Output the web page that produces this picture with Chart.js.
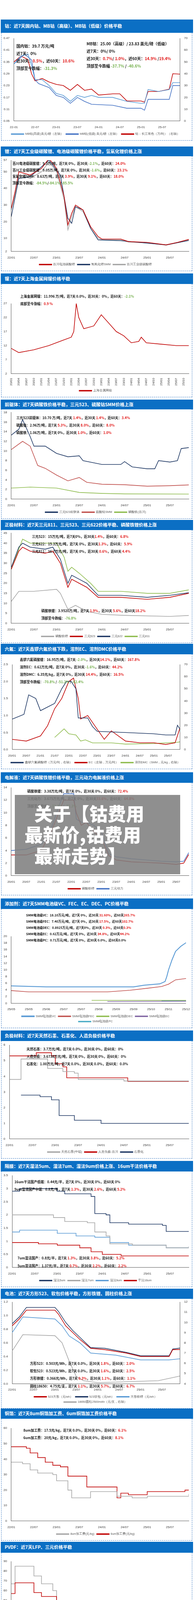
<!DOCTYPE html>
<html lang="zh">
<head>
<meta charset="UTF-8">
<title>锂电材料价格跟踪</title>
<script src="https://cdn.jsdelivr.net/npm/chart.js"></script>
<style>
  body { margin: 0; background: #fff; font-family: "Noto Sans CJK SC", "Noto Sans", sans-serif; }
  #page { position: relative; width: 500px; height: 4275px; overflow: hidden; }
  .hdr { position: absolute; left: 2px; width: 493px; background: #0b6fc4; color: #fff;
         font-weight: bold; font-size: 11.5px; line-height: 1; display: flex; align-items: center;
         padding-left: 10px; box-sizing: border-box; white-space: nowrap; overflow: hidden; }
  .box { position: absolute; left: 3px; width: 490px; border: 1.5px dashed #3a78c0; border-top: none; box-sizing: border-box; }
  .box canvas { position: absolute; left: 0; top: 0; }
  .note { position: absolute; font-weight: bold; font-size: 8.6px; color: #111; white-space: nowrap; z-index: 2; }
  .r { color: #e01010; } .g { color: #70ad47; }
  #banner { position: absolute; left: 38px; top: 2035px; width: 424px; height: 203px;
            background: rgba(128,128,128,0.88); z-index: 5; overflow: hidden; }
  #banner div { position: absolute; left: 25px; color: #fff; font-weight: 900; font-size: 47px; line-height: 1; white-space: nowrap; }
</style>
</head>
<body>
<div id="page"></div>
<script>
// ---------- 数据 ----------
const ticks22 = ['22/01','22/07','23/01','23/07','24/01','24/07','25/01','25/07'];
const ticks22dash = ['22-01','22-07','23-01','23-07','24-01','24-07','25-01','25-07'];
const ticks20 = ['20/01','20/07','21/01','21/07','22/01','22/07','23/01','23/07','24/01','24/07','25/01','25/07'];
const ticksNi = ['20/01','20/04','20/07','20/10','21/01','21/04','21/07','21/10','22/01','22/04','22/07','22/10',
                 '23/01','23/04','23/07','23/10','24/01','24/04','24/07','24/10','25/01','25/04','25/07','25/10'];
const ticksAdd = ['25/05','25/05','25/06','25/07','25/07','25/08','25/09','25/09','25/10','25/11','25/12'];

// 钴
const coHighD = ['22-01','22-03','22-05','22-06','22-07','22-09','22-11','23-01','23-03','23-05','23-07','23-09','23-11','24-01','24-05','24-09','25-01','25-02','25-03','25-06','25-09','25-10','25-12'];
const coHighV = [0.34,0.38,0.39,0.33,0.26,0.26,0.23,0.19,0.18,0.15,0.18,0.17,0.18,0.17,0.17,0.15,0.14,0.14,0.21,0.20,0.21,0.245,0.245];
const coLowD = ['22-01','22-04','22-06','22-07','22-08','22-11','23-01','23-03','23-05','23-07','23-09','23-11','24-05','24-09','25-01','25-02','25-03','25-09','25-10','25-12'];
const coLowV = [0.34,0.39,0.36,0.26,0.24,0.22,0.18,0.17,0.14,0.17,0.15,0.135,0.13,0.115,0.115,0.105,0.16,0.16,0.23,0.23];
const coCjD = ['22-01','22-03','22-05','22-06','22-07','22-09','22-11','23-01','23-03','23-05','23-07','23-09','23-11','24-01','24-05','24-07','24-09','25-01','25-02','25-03','25-06','25-09','25-10','25-12'];
const coCjV = [50,55,52,40,34,36,33,31,30,26,31,26,27,22,23,23,17,17,16,25,25,27,40,39.7];

// 锂
const liBatD = ['22-01','22-02','22-03','22-06','22-09','22-11','23-01','23-03','23-04','23-05','23-06','23-08','23-10','23-12','24-01','24-06','24-08','25-01','25-06','25-09','25-12'];
const liBatV = [28,38,50,48,52,58,52,35,18,25,30,27,17,11,9.5,9.5,8,7.5,6,7.5,9.3];
const liIndV = [27,36,48,46,50,56,50,33,15,23,29,26,16,10,9,9,7.7,7.2,5.8,7.3,9.05];
const liOhD = ['22-01','22-03','22-06','22-11','23-02','23-04','23-05','23-06','23-08','23-10','23-12','24-06','25-06','25-12'];
const liOhV = [23,46,47,57,48,22,19,29,27,16,9,8.5,6,8.63];

// 镍
const niD = ['20-01','20-04','20-10','21-04','21-10','22-01','22-02','22-03','22-04','22-06','22-10','23-01','23-04','23-07','23-10','24-01','24-04','24-05','24-07','25-01','25-07','25-12'];
const niV = [11,9.5,10.5,12,14,15,17,27,22,18,19,23,20,17,15.5,13,13.5,15,13,12.5,12,12];

// 前驱体
const preD = ['22-01','22-03','22-04','22-06','22-07','22-10','23-01','23-04','23-07','23-08','24-01','24-06','24-07','24-09','25-01','25-03','25-04','25-07','25-09','25-10','25-12'];
const preV = [13.3,14.5,16.5,13,11,11,9.5,8.8,9,8,7.2,7.2,7.8,6.7,6.3,6.3,8,7.7,8,10.5,10.7];
const coSulD = ['22-01','22-04','22-06','22-08','22-10','23-01','23-04','23-07','23-09','24-01','24-07','25-01','25-07','25-12'];
const coSulV = [10.3,12,11,7,6.4,5,3.8,4.5,3.5,3.1,3,2.7,2.8,2.96];
const fePoD = ['22-01','22-06','23-01','23-07','24-01','24-07','25-12'];
const fePoV = [2.3,2.5,2.3,1.4,1.2,1.1,1.06];

// 正极
const catD = ['22-01','22-03','22-04','22-06','22-10','22-12','23-02','23-04','23-05','23-07','23-09','23-12','24-06','25-01','25-07','25-12'];
const c523V = [27,36,38,36,35,36,30,18,22,20,18,13,13,12,13,15];
const c622V = [28,38,40,38,37,38,32,20,24,22,20,14,14,13,14,15.3];
const c811D = ['22-01','22-04','22-06','23-01','23-03','23-04','23-05','23-07','23-10','23-12','24-06','25-01','25-07','25-12'];
const c811V = [27,42,40,40,33,26,28,25,20,16,16,15,15,16.7];
const lfpD = ['22-01','22-03','22-07','23-01','23-02','23-04','23-06','23-09','24-01','24-07','25-07','25-12'];
const lfpV = [11,16,16,17,15,7,9,6,4.5,4,3.5,3.95];

// 六氟 / EC / DMC
const pf6D = ['20-01','20-06','20-08','20-11','21-01','21-04','21-07','21-10','21-12','22-02','22-04','22-05','22-07','22-09','22-11','23-01','24-01','25-01','25-06','25-10','25-11','25-12'];
const pf6V = [25,29,45,42,32,35,38,50,56,56,50,26,26,26,19,15,14,13,12,12,20,17];
const ecD = ['20-01','20-07','21-01','21-04','21-07','21-10','22-01','22-03','22-05','22-06','22-09','22-12','23-04','23-07','23-10','24-01','24-07','25-01','25-06','25-10','25-12'];
const ecV = [0.3,0.25,0.4,0.7,1.2,1.5,2.0,2.1,1.5,0.9,1.0,0.7,0.3,0.55,0.4,0.25,0.2,0.2,0.15,0.2,0.62];
const dmcD = ['21-07','21-11','22-01','22-04','22-06','22-08','22-11','23-07','24-01','25-01','25-11','25-12'];
const dmcV = [10,17,13,12,7,8,5.5,5.5,4.5,5,6,6.35];

// 电解液
const eleD = ['20-01','20-07','21-01','21-05','21-08','21-10','22-02','22-03','22-05','22-07','22-10','23-01','23-04','23-07','24-01','24-07','25-01','25-07','25-10','25-12'];
const eleLfpV = [3.3,3.3,4,7,10,12,12,10,8,8.5,7,6,3.2,2.5,2.2,2.1,2,1.8,2,3.38];
const eleNcmV = [4,4.2,5,7.5,11,13,13,9,8.5,8.5,8,7,3.5,3,2.7,2.5,2.3,2.2,2.3,3.675];

// 添加剂
const vcX = [0,20,70,76,85,88,89,90,92,94,97,100];
const vcV = [5.2,4.9,4.9,5.4,5.8,6.5,8,10,13,15.5,17,18.1];
const fecX = [0,10,55,68,78,86,90,94,100];
const fecV = [3.8,3.4,3.4,3.9,4.5,5,5.7,7,7.4];
const decX = [46,100]; const decV = [0.89,0.89];
const ecAddX = [55,100]; const ecAddV = [0.55,0.62];
const pcX = [86,100]; const pcV = [0.71,0.71];

// 负极
const natD = ['22-01','22-03','22-04','22-10','22-11','23-03','23-06','23-07','24-01','24-07','25-12'];
const natV = [3.8,3.8,5.1,5.1,4.5,4.3,4.2,3.8,3.8,3.7,3.7];
const artD = ['22-01','22-08','22-12','23-01','23-03','23-04','24-06','24-08','25-12'];
const artV = [5.3,5.5,5.3,4.8,4.6,3.9,3.9,3.67,3.67];
const grpD = ['22-04','22-09','22-12','23-02','23-06','24-01','25-12'];
const grpV = [2.8,2.7,2.5,1.5,1.2,1.0,1.0];

// 隔膜
const s5D = ['22-01','22-03','23-01','23-03','23-10','23-11','24-02','24-03','24-08','25-05','25-06','25-12'];
const s5V = [2.9,3.0,2.9,2.8,2.7,2.05,2.0,1.7,1.65,1.6,1.37,1.37];
const s7D = ['22-01','22-09','22-12','23-03','23-09','23-11','24-02','24-03','24-09','25-06','25-12'];
const s7V = [2.0,2.0,1.9,1.75,1.7,1.35,1.2,0.9,0.85,0.75,0.8];
const s9D = ['22-01','22-03','22-12','23-01','23-06','23-11','24-03','24-08','25-06','25-12'];
const s9V = [1.35,1.42,1.42,1.3,1.2,1.15,0.95,0.85,0.75,0.8];
const s16D = ['22-01','22-08','23-01','23-07','23-10','24-01','24-06','25-12'];
const s16V = [0.95,0.9,0.85,0.75,0.6,0.5,0.44,0.44];

// 电池
const batD = ['22-01','22-03','22-05','23-01','23-02','23-04','23-06','23-08','23-11','24-03','24-09','25-01','25-09','25-10','25-12'];
const b523V = [0.85,0.95,1.08,1.08,1.02,0.85,0.75,0.65,0.52,0.5,0.45,0.4,0.4,0.5,0.503];
const bSoftV = [0.88,0.98,1.12,1.12,1.06,0.9,0.78,0.68,0.53,0.52,0.46,0.41,0.41,0.51,0.523];
const bLfpD = ['22-01','22-04','23-01','23-03','23-05','23-08','23-11','24-06','25-01','25-09','25-12'];
const bLfpV = [0.75,0.98,0.95,0.85,0.7,0.6,0.45,0.42,0.35,0.35,0.366];
const bCylD = ['22-01','22-04','23-01','23-03','23-05','23-07','23-09','24-01','25-06','25-12'];
const bCylV = [7.2,8.8,8.7,8,6.2,4.7,4.3,4.1,4.3,4.75];

// 铜箔
const cu8D = ['22-01','22-04','22-06','22-08','22-12','23-01','23-04','23-05','23-09','23-10','24-04','24-05','24-09','25-01','25-10','25-12'];
const cu8V = [38,37,33,31,30,26,20,15,15,19,19,16,15,16,16,17.5];
const cu6D = ['22-01','22-05','22-06','22-08','22-10','22-12','23-02','23-04','23-08','23-09','24-03','24-05','24-06','24-08','25-01','25-09','25-11','25-12'];
const cu6V = [48,47,44,41,38,36,35,29,29,22,22,15,18,17,19,19,20,20];

// PVDF
const pvNcmD = ['22-01','22-02','22-06','22-07','22-09','22-12','23-01','23-04','23-07','23-10','24-02','24-06','25-12'];
const pvNcmV = [67,85,85,75,67,60,50,40,30,20,15,12,11.95];
const pvLfpD = ['22-01','22-02','22-06','22-07','22-09','22-11','23-01','23-03','23-05','23-07','23-09','24-02','24-06','25-12'];
const pvLfpV = [57,68,68,58,54,54,40,35,27,20,10,7,6,6];

// ---------- 绘制 ----------
const RED = '#c00000', NAVY = '#1f3864', BLUE = '#4472c4', LBLUE = '#5b9bd5', GRAY = '#a6a6a6', GREEN = '#8fbc4f';
const page = document.getElementById('page');

function mon(s, base) { const [y, m] = s.split('-').map(Number); return (y - base) * 12 + m - 1; }
function pts(d, v, base) { return d.map((s, i) => ({ x: typeof s === 'number' ? s : mon(s, base), y: v[i] })); }
function ds(label, d, v, color, base, extra) {
  return Object.assign({ label, data: pts(d, v, base), borderColor: color, backgroundColor: color,
    borderWidth: 1.6, pointRadius: 0, fill: false, yAxisID: 'y' }, extra || {});
}
const r = t => `<span class="r">${t}</span>`;
const g = t => `<span class="g">${t}</span>`;

function panel(p) {
  const h = document.createElement('div');
  h.className = 'hdr'; h.style.top = p.hTop + 'px'; h.style.height = (p.bTop - p.hTop) + 'px';
  h.textContent = p.title; page.appendChild(h);
  const b = document.createElement('div');
  b.className = 'box'; b.style.top = p.bTop + 'px'; b.style.height = (p.bBot - p.bTop) + 'px';
  page.appendChild(b);
  const c = document.createElement('canvas');
  c.width = 486; c.height = p.bBot - p.bTop - 3; b.appendChild(c);
  (p.notes || []).forEach(n => {
    const d = document.createElement('div');
    d.className = 'note'; d.style.left = n[0] + 'px'; d.style.top = n[1] + 'px';
    if (n[3]) d.style.fontSize = n[3] + 'px';
    d.innerHTML = n[2]; b.appendChild(d);
  });
  const scales = {
    x: { type: 'linear', min: 0, max: p.xMax, grid: { display: false, drawTicks: true },
         border: { color: '#555' },
         ticks: { stepSize: p.step, autoSkip: false, includeBounds: false, maxRotation: p.rot || 0, minRotation: p.rot || 0,
                  font: { size: 8 }, color: '#333', callback: v => p.ticks[Math.round(v / p.step)] ?? '' } },
    y: { min: p.y[0], max: p.y[1], grid: { display: false }, border: { color: '#555' },
         ticks: { stepSize: p.y[2], font: { size: 8 }, color: '#333', autoSkip: false,
                  callback: v => p.y[3] != null ? v.toFixed(p.y[3]) : v } }
  };
  if (p.y2) scales.y2 = { position: 'right', min: p.y2[0], max: p.y2[1], grid: { display: false }, border: { color: '#555' },
         ticks: { stepSize: p.y2[2], font: { size: 8 }, color: '#333' } };
  new Chart(c, {
    type: 'line',
    data: { datasets: p.data },
    options: {
      responsive: false, animation: false,
      layout: { padding: { left: 2, right: 6, top: p.padTop || 8, bottom: 0 } },
      plugins: { tooltip: { enabled: false },
        legend: { position: 'bottom', labels: { boxWidth: 32, boxHeight: 2, font: { size: 7.5 }, color: '#555', padding: 6 } } },
      scales
    }
  });
}

panel({ title: '钴：近7天国内钴、MB钴（高级）、MB钴（低级）价格平稳', hTop: 50, bTop: 84, bBot: 360,
  xMax: 47, step: 6, ticks: ticks22dash, y: [0.05, 0.47, 0.06, 2], y2: [0, 70, 10], padTop: 14,
  data: [ds('MB钴(高级)美元/磅（左轴）', coHighD, coHighV, LBLUE, 22),
         ds('MB钴(低级) 美元/磅（左轴）', coLowD, coLowV, BLUE, 22),
         ds('钴：长江有色（万/吨）（右轴）', coCjD, coCjV, RED, 22, { yAxisID: 'y2' })],
  notes: [[38, 26, '国内钴：39.7 万元/吨', 10], [38, 45, '近7天：0%', 10], [38, 64, `近30天：${r('0.5%')}，近60天：${r('10.6%')}`, 10],
          [38, 83, `顶部至今跌幅：${g('-31.3%')}`, 10],
          [218, 20, 'MB钴：25.00（高级）/ 23.83 美元/磅（低级）', 10], [218, 39, '近7天：0%/ 0%', 10],
          [218, 58, `近30天：${r('0.7%')}/ ${r('1.0%')}，近60天：${r('14.9%')} /${r('19.4%')}`, 10],
          [218, 77, `顶部至今跌幅 ${g('-37.7%')} / ${g('-40.6%')}`, 10]] });

panel({ title: '锂：近7天工业级碳酸锂、电池级碳酸锂价格平稳，氢氧化锂价格上涨', hTop: 375, bTop: 400, bBot: 694,
  xMax: 47, step: 6, ticks: ticks22, y: [2, 57, 10], padTop: 10,
  data: [ds('百川电池碳酸锂', liBatD, liBatV, RED, 22), ds('氢氧化锂SMM', liOhD, liOhV, NAVY, 22), ds('百川工业级碳酸锂', liBatD, liIndV, GRAY, 22)],
  notes: [[28, 12, `百川电池级碳酸锂：9.3万/吨，近7天 0%，近30天 ${g('-2.1%')}，近60天：${r('24.0%')}`],
          [28, 29, `百川工业级碳酸锂：9.05万/吨，近7天 0%，近30天 ${g('-1.6%')}，近60天：${r('23.1%')}`],
          [28, 45, `氢氧化锂SMM：8.63万/吨，近7天 ${r('3.9%')}，近30天 ${r('9.1%')}，近60天：${r('18.0%')}`],
          [28, 62, `顶部至今跌幅：${g('-84.5%')}/${g('-84.1%')}/${g('-85.5%')}`]] });

panel({ title: '镍：近7天上海金属网镍价格平稳', hTop: 700, bTop: 727, bBot: 1017,
  xMax: 71, step: 3, ticks: ticksNi, rot: 90, y: [2, 27, 5], padTop: 50,
  data: [ds('上海金属网镍', niD, niV, RED, 20)],
  notes: [[48, 25, `上海金属网镍：11.996 万/吨，近7天 0.0%，近30天：0%，近60天：${g('-2.1%')}`],
          [48, 44, `底部至今涨幅：${r('0.9 %')}`]] });

panel({ title: '前驱体：近7天磷酸铁价格平稳，三元523、硫酸钴SMM价格上涨', hTop: 1023, bTop: 1048, bBot: 1328,
  xMax: 47, step: 6, ticks: ticks22, y: [0, 18, 2], padTop: 6,
  data: [ds('三元523前驱体', preD, preV, NAVY, 22), ds('硫酸钴SMM', coSulD, coSulV, '#c0504d', 22), ds('磷酸铁(百川)', fePoD, fePoV, GREEN, 22)],
  notes: [[38, 15, `三元523前驱体：10.70 万/吨，近7天 ${r('1.4%')}，近30天 ${r('1.4%')}，近60天：${r('3.4%')}`],
          [38, 34, `硫酸钴：2.96万/吨，近7天 ${r('5.3%')}，近30天 ${r('8.0%')}，近60天：${r('8.0%')}`],
          [38, 53, `磷酸铁：1.06万/吨，近7天 0%，近30天 ${r('1.0%')}，近60天：${r('1.0%')}`]] });

panel({ title: '正极材料：近7天三元811、三元523、三元622价格平稳、磷酸铁锂价格上涨', hTop: 1331, bTop: 1357, bBot: 1646,
  xMax: 47, step: 6, ticks: ticks22, y: [0, 45, 5], padTop: 6,
  data: [ds('磷酸铁锂', lfpD, lfpV, GRAY, 22), ds('三元523', catD, c523V, RED, 22), ds('三元622', catD, c622V, NAVY, 22), ds('三元811', c811D, c811V, GREEN, 22)],
  notes: [[78, 10, `三元523：15万元/吨，近7天0%，近30天${r('1.4%')}，近60天：${r('6.8%')}`],
          [78, 29, `三元622：15.3万元/吨，近7天 0%，近30天${r('1.3%')}，近60天：${r('5.9%')}`],
          [78, 48, `三元811：16.7万元/吨，近7天 0%，近30天 ${r('0.6%')}，近60天 ${r('4.4%')}`],
          [102, 200, `磷酸铁锂：3.9520万/吨，近7天 ${r('1.9%')}，近30天 ${r('5.6%')}，近60天${r('18.2%')}`],
          [102, 219, `顶部至今跌幅：${g('-76.8%')}`]] });

panel({ title: '六氟：近7天鑫锣六氟价格下跌，溶剂EC、溶剂DMC价格平稳', hTop: 1648, bTop: 1675, bBot: 1969,
  xMax: 71, step: 6, ticks: ticks20, y: [0, 2.5, 0.5, 1], y2: [0, 70, 10], padTop: 26,
  data: [ds('鑫锣六氟磷酸锂（万元/吨，右轴）', pf6D, pf6V, NAVY, 20, { yAxisID: 'y2' }),
         ds('EC（左轴，万元/吨）', ecD, ecV, RED, 20),
         ds('溶剂DMC（SMM，元/kg，右轴）', dmcD, dmcV, GREEN, 20, { yAxisID: 'y2' })],
  notes: [[47, 7, `鑫锣六氟磷酸锂：16.95万/吨，近7天 ${g('-2.0%')}，近30天${r('14.1%')}，近60天：${r('167.8%')}`],
          [47, 26, `溶剂EC：0.62万元/吨，近7天 0%，近30天 ${g('-1.6%')}，近60天：${r('44.2%')}`],
          [47, 45, `溶剂DMC：6.35元/kg，近7天 0%，近30天 ${r('14.4%')}，近60天：${r('16.5%')}`],
          [47, 64, `顶部至今跌幅：${g('-70.8%')} / ${g('-51.2%')} / ${g('-62.4%')}`]] });

panel({ title: '电解液：近7天磷酸铁锂价格平稳，三元动力电解液价格上涨', hTop: 1977, bTop: 2004, bBot: 2292,
  xMax: 71, step: 6, ticks: ticks20, y: [0, 14, 2], padTop: 12,
  data: [ds('磷酸铁锂', eleD, eleLfpV, RED, 20), ds('三元动力', eleD, eleNcmV, BLUE, 20)],
  notes: [[66, 15, `磷酸铁锂：3.38万元/吨，近7天 0%，近30天 0%，近60天：${r('72.4%')}`],
          [66, 34, `三元动力：3.675万元/吨，近7天 0%，近30天${r('33.6%')}，近60天：${r('64.8%')}`],
          [66, 53, `顶部至今跌幅：${g('-72.3%')} / ${g('-72.3%')}`]] });

panel({ title: '添加剂：近7天SMM电池级VC、FEC、EC、DEC、PC价格平稳', hTop: 2300, bTop: 2327, bBot: 2632,
  xMax: 100, step: 10, ticks: ticksAdd, y: [0, 20, 2], padTop: 70,
  data: [ds('SMM电池级VC', vcX, vcV, LBLUE, 0, { borderWidth: 2.2 }), ds('SMM电池级FEC', fecX, fecV, '#c0504d', 0),
         ds('SMM电池级DEC', decX, decV, GREEN, 0), ds('SMM电池级EC', ecAddX, ecAddV, '#8064a2', 0),
         ds('SMM电池级PC', pcX, pcV, '#4bacc6', 0)],
  notes: [[63, 10, `SMM电池级VC：18.10万元/吨，近7天 0%，近30天 ${r('31.60%')}，近60天${r('265.7%')}`, 8],
          [63, 26, `SMM电池级FEC：7.40万元/吨，近7天 0%，近30天 ${r('17.5%')}，近60天${r('102.7%')}`, 8],
          [63, 42, `SMM电池级DEC：0.8925万元/吨，近7天0%，近30天 ${r('0.3%')}，近60天${r('0.3%')}`, 8],
          [63, 58, `SMM电池级EC：0.62万元/吨，近7天 0%，近30天 ${r('34.8%')}，近60天${r('44.2%')}`, 8],
          [63, 74, 'SMM电池级PC：0.71万元/吨，近7天 0%，近30天 0.0%，近60天0.0%', 8]] });

panel({ title: '负极材料：近7天天然石墨、石墨化、人造负极价格平稳', hTop: 2638, bTop: 2665, bBot: 2966,
  xMax: 47, step: 6, ticks: ticks22, y: [0, 6, 1], padTop: 10,
  data: [ds('天然石墨(中端)', natD, natV, GRAY, 22, { stepped: true }), ds('人造负极-百川', artD, artV, RED, 22, { stepped: true }),
         ds('石墨化', grpD, grpV, NAVY, 22, { stepped: true })],
  notes: [[64, 14, '天然石墨：3.7万元/吨，近7天 0.0%，近30天 0%，近60天：0%'],
          [64, 33, '人造负极：3.6738万元/吨，近7天 0%，近30天 0%，近60天：0%'],
          [64, 52, '石墨化：1.00万元/吨，近7天 0.0%，近30天 0.0%，近60天：0.0%']] });

panel({ title: '隔膜：近7天湿法5um、湿法7um、湿法9um价格上涨、16um干法价格平稳', hTop: 2972, bTop: 2999, bBot: 3295,
  xMax: 47, step: 6, ticks: ticks22, y: [0, 3.5, 0.5], padTop: 10,
  data: [ds('湿法5um', s5D, s5V, NAVY, 22, { stepped: true }), ds('湿法7um', s7D, s7V, GRAY, 22, { stepped: true }),
         ds('湿法9um', s9D, s9V, LBLUE, 22, { stepped: true }), ds('干法16um', s16D, s16V, RED, 22, { stepped: true })],
  notes: [[33, 20, '16um干法国产低端：0.44元/平，近7天 0%，近30天 0%，近60天 0%'],
          [33, 39, `9um湿法国产中端：0.8元/平，近7天 ${r('1.3%')}，近30天 ${r('2.6%')}，近60天 ${r('5.2%')}`],
          [41, 215, `7um湿法国产：0.8元/平，近7天 ${r('1.3%')}，近30天 ${r('3.8%')}，近60天：${r('5.2%')}`],
          [41, 235, `5um湿法国产：1.37元/平，近7天 ${r('0.7%')}，近30天 ${r('2.2%')}，近60天：${r('2.2%')}`]] });

panel({ title: '电池：近7天方形523、软包价格平稳，方形铁锂、圆柱价格上涨', hTop: 3299, bTop: 3325, bBot: 3606,
  xMax: 47, step: 6, ticks: ticks22, y: [0, 1.2, 0.2, 1], y2: [4, 12, 1], padTop: 8,
  data: [ds('523方形（元/wh）', batD, b523V, RED, 22), ds('523软包（元/wh）', batD, bSoftV, NAVY, 22),
         ds('方形铁锂（元/wh）', bLfpD, bLfpV, LBLUE, 22), ds('18650圆柱2500mAh（元/支，右轴）', bCylD, bCylV, GRAY, 22, { yAxisID: 'y2' })],
  notes: [[73, 159, `方形523：0.503元/Wh，近7天 0.0%，近30天 ${r('1.8%')}，近60天：${r('2.0%')}`],
          [73, 178, `软包523：0.523元/Wh，近7天 0.0%，近30天 ${r('1.6%')}，近60天：${r('2.5%')}`],
          [73, 197, `方形铁锂：0.366元/Wh，近7天 ${r('0.3%')}，近30天 ${r('1.1%')}，近60天：${r('1.1%')}`],
          [73, 217, `圆柱18650：4.75元/支，近7天 ${r('1.1%')}，近30天 ${r('5.7%')}，近60天：${r('6.7%')}`]] });

panel({ title: '铜箔：近7天8um铜箔加工费、6um铜箔加工费价格平稳', hTop: 3606, bTop: 3632, bBot: 3944,
  xMax: 47, step: 6, ticks: ticks22, y: [0, 60, 10], padTop: 24,
  data: [ds('8um加工费(元/kg)', cu8D, cu8V, GRAY, 22, { stepped: true }), ds('6um加工费(元/kg)', cu6D, cu6V, RED, 22, { stepped: true })],
  notes: [[56, 23, `8um加工费：17.5元/kg，近7天 0.0%，近30天 0%，近60天：${r('6.1%')}`],
          [56, 42, `6um加工费：20元/kg，近7天 0.0%，近30天 0%，近60天：${r('8.1%')}`]] });

panel({ title: 'PVDF：近7天LFP、三元价格平稳', hTop: 3947, bTop: 3975, bBot: 4272,
  xMax: 47, step: 6, ticks: ticks22, y: [0, 90, 10], padTop: 22,
  data: [ds('LFP(万/吨)', pvLfpD, pvLfpV, RED, 22, { stepped: true }), ds('三元(万/吨)', pvNcmD, pvNcmV, GRAY, 22, { stepped: true })],
  notes: [[53, 213, `LFP：6 万元/吨，近7天 0%，近30天 0%，近60天：${r('6.2%')}`],
          [53, 233, '三元：11.95万元/吨，近7天 0%，近30天 0%，近60天：0%']] });

// 覆盖横幅
const banner = document.createElement('div');
banner.id = 'banner';
banner.innerHTML = '<div style="top:22px;left:50px">关于【钴费用</div><div style="top:76px">最新价,钴费用</div><div style="top:130px;left:50px">最新走势】</div>';
page.appendChild(banner);
</script>
</body>
</html>
